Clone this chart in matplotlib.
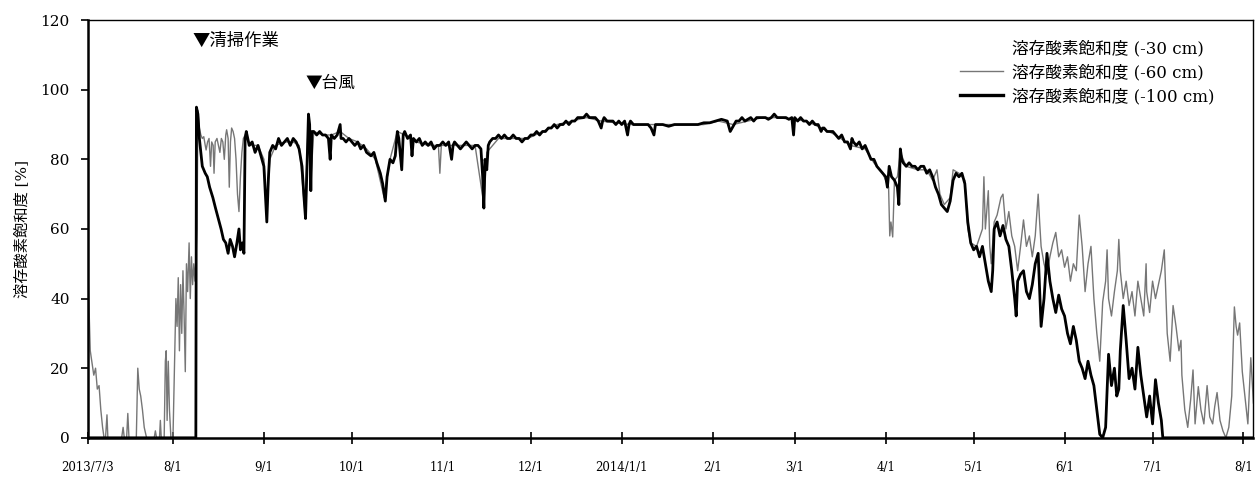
import numpy as np
import pandas as pd
import matplotlib
matplotlib.use("Agg")
import matplotlib.pyplot as plt

START = pd.Timestamp("2013-07-03")

# DO saturation (%) readings, keyed by days since 2013-07-03
day_60 = [0, 0.4, 0.8, 1.4, 2, 2.6, 3.2, 3.8, 4.4, 5, 5.5, 6, 6.5, 6.8, 11.5, 12, 12.4, 13.2,
          13.6, 14, 16.5, 17, 17.5, 18, 18.6, 19.2, 20, 22.6, 23, 23.4, 24.4, 24.7, 25, 26,
          26.4, 26.7, 27, 27.4, 27.8, 28.3, 29, 29.5, 30, 30.4, 30.8, 31.2, 31.6, 32, 32.4,
          32.8, 33.2, 33.6, 34, 34.5, 34.9, 35.3, 35.7, 36.1, 36.5, 36.9, 37.2,
          37.5, 38, 38.5, 39, 39.5, 40, 40.3, 40.8, 41.3, 41.8, 42.2, 42.7, 43, 43.4, 44,
          44.5, 45, 45.5, 46, 46.5, 47, 47.3, 47.8, 48.2, 48.6, 49, 49.5, 50, 50.5, 51, 51.5,
          52, 52.5, 53, 53.6, 54,
          55, 58, 60, 61, 62, 64, 67, 70, 72, 74, 75.2, 76, 77, 80, 83, 86, 89, 92, 95, 98,
          101, 103, 105.5, 108, 112, 116, 119.5, 120, 120.5, 124, 128, 132, 135, 136, 140,
          145, 150, 155, 160, 165, 170, 175, 180, 185, 190, 195, 200, 210, 215, 220, 225,
          230, 235, 240, 245, 250, 255, 260, 265, 268, 271, 273, 273.4, 273.8, 274.4, 275,
          276, 277, 279, 283, 286, 288, 289.5, 290.5, 292, 294, 295, 297, 299, 300, 301,
          303, 305, 305.5, 306, 307, 307.5, 308, 309, 310, 311.3, 312, 313, 314, 315, 316,
          317, 318, 319, 320, 321, 322, 323, 324, 324.5, 325, 326, 327, 328, 329, 330, 331,
          332, 333, 334, 335, 336, 337, 338, 339, 340, 341, 342, 343, 344, 345, 346, 347,
          347.5, 348, 349, 350, 351, 351.5, 352, 353, 354, 355, 356, 357, 358, 359, 360,
          360.8, 361, 362, 363, 364, 365, 366, 367, 367.5, 368, 369, 370, 371, 372, 372.7,
          373, 374, 375, 376, 376.8, 377.5, 378.6, 379.5, 380.5, 381.6, 382.5, 383.5, 384.2,
          385, 386, 387, 388, 389, 390, 390.9, 391.5, 392, 392.7, 393.6, 394.5, 395.5,
          396.5, 397.4]
do_60 = [48, 36, 25, 21.5, 18, 20, 14, 15, 8, 3, 0, 0, 6.6, 0, 0, 3, 0, 0,
         7, 0, 0, 20, 14, 12, 8, 3, 0, 0, 2, 0, 0, 5, 0, 0,
         22, 25, 5, 22, 8, 0, 0, 20, 40, 32, 46, 25, 44, 30, 48,
         35, 19, 50, 42, 56, 40, 52, 44, 50, 45, 53, 60,
         94, 89, 87, 86, 86.5, 84, 82.7, 85, 86, 78, 85, 84, 76, 85, 86,
         84, 82, 86, 85, 80, 87, 88.5, 86, 72, 85, 89, 88, 86, 80, 70, 65,
         75, 82, 86, 87, 88,
         84, 84, 80, 64, 80, 84, 85, 85, 84, 65, 92, 74, 88, 87, 87, 88, 86, 85, 83, 80,
         69, 80, 88, 87, 85, 84, 84, 76, 84, 84, 84, 84, 67, 82, 86,
         86, 86, 88, 90, 91, 92, 91, 90.5, 90, 90, 90, 90, 90, 91, 90, 91,
         92, 92, 91.5, 91, 89, 87, 84, 83, 79, 76, 72, 58, 62, 57.7, 74,
         75, 82, 78, 77, 77, 74, 77, 70, 67, 69, 77, 76, 74, 60, 56,
         55, 60, 75, 60, 71, 55, 50, 62, 64, 69, 70, 60, 65, 58, 55,
         48, 55, 62.6, 55, 58, 52, 58, 70, 62, 55, 50, 47, 52, 56, 59, 52,
         54, 49, 52, 45, 50, 48, 64, 55, 42, 50, 55, 40, 30, 22, 39, 45,
         54, 40, 35, 42, 48, 57, 48, 40, 45, 38, 42, 35, 45, 40, 35,
         50, 42, 36, 45, 40, 44, 48, 54, 42, 30, 22, 38, 32, 25, 28,
         18, 8, 3, 11, 19.5, 4, 14.7, 8, 4, 15, 6, 4, 9,
         13, 5, 2, 0, 3, 12, 37.6, 32, 29.5, 33, 19, 12, 4,
         23, 10]

day_100 = [0, 36.8, 37.0, 37.5, 38, 39, 40, 40.7, 41.5, 42.6, 43.5, 44.3, 45.4, 46.2, 47, 47.8,
           48.5, 49.3, 50, 50.8, 51.5, 52, 52.6, 53.2, 53.6, 54, 55, 56, 57, 58, 59, 60, 60.5,
           61, 61.5, 62, 63, 64, 65, 66, 67, 68, 69, 70, 71, 72, 73, 73.6, 74.2, 74.6, 75.2,
           75.6, 76, 76.4, 77, 78, 79, 80, 81, 82, 82.6, 83, 84, 85, 86, 86.3, 87, 88, 89, 90,
           91, 92, 93, 94, 95, 96.5, 97.5, 98.5, 99.7, 100.5, 101.4, 102, 103, 104, 104.8,
           105.5, 106, 107, 107.5, 108, 109, 110, 110.5, 111, 112, 113, 114, 115, 116, 117,
           118, 119, 120, 121, 122, 123, 124, 124.5, 125, 126, 127, 128, 129, 130, 131, 132,
           133, 134, 134.6, 135, 135.4, 136, 136.5, 137, 138, 139, 140, 141, 142, 143, 144,
           145, 146, 147, 148, 149, 150, 151, 152, 153, 154, 155, 156, 157, 158, 159, 160,
           161, 162, 163, 164, 165, 166, 167, 168, 169, 170, 171, 172, 173, 174, 175, 175.5,
           176, 177, 178, 179, 180, 181, 182, 183, 184, 184.5, 185, 186, 187, 188, 189, 190,
           191, 192, 193, 193.5, 194, 196, 198, 200, 202, 204, 206, 208, 210, 212, 214, 216,
           218, 219, 220, 221, 222, 223, 224, 225, 226, 227, 228, 229, 230, 231, 232, 233,
           234, 235, 236, 237, 238, 239, 240, 240.6, 241, 242, 243, 244, 245, 246, 247, 248,
           249, 250, 250.5, 251, 252, 253, 254, 255, 256, 257, 258, 259, 260, 260.5, 261,
           262, 263, 264, 265, 266, 267, 268, 269, 270, 271, 272, 272.6, 273.2, 274, 275,
           276, 276.5, 277, 277.5, 278, 279, 280, 281, 282, 283, 284, 285, 286, 287, 288,
           289, 290, 291, 292, 293, 294, 295, 296, 297, 298, 299, 300, 301, 302, 303, 304,
           305, 306, 307, 308, 308.5, 309, 310, 311, 312, 313, 314, 315, 316, 316.5, 317,
           318, 319, 320, 321, 322, 323, 324, 325, 326, 327, 328, 329, 330, 331, 332, 333,
           334, 335, 336, 337, 338, 339, 340, 341, 342, 343, 344, 345, 346, 347, 348, 349,
           350, 350.8, 351.5, 352, 353, 354, 355, 356, 357, 358, 359, 360, 361, 362, 363,
           364, 365, 366, 366.5, 397.4]
do_100 = [0, 0, 95, 93, 86, 78, 76, 75, 72, 69, 66, 63.5, 60, 57, 56, 53,
          57, 55, 52, 56, 60, 54, 56, 53, 86, 88, 84, 85, 82, 84, 81, 78, 70,
          62, 74, 82, 84, 83, 86, 84, 85, 86, 84, 86, 85, 83, 78, 70, 63, 75, 93,
          90, 71, 88, 88, 87, 88, 87, 87, 86, 80, 87, 86, 87, 90, 86, 86, 85, 86, 85,
          84, 85, 83, 84, 82, 81, 82, 79, 76, 73, 68, 75, 80, 79, 81,
          88, 86, 77, 87, 88, 86, 87, 81, 86, 85, 86, 84, 85, 84, 85,
          83, 84, 84, 85, 84, 85, 80, 84, 85, 84, 83, 84, 85, 84, 83, 84,
          84, 83, 75, 66, 80, 77, 84, 85, 86, 86, 87, 86, 87, 86, 86,
          87, 86, 86, 85, 86, 86, 87, 87, 88, 87, 88, 88, 89, 89, 90, 89,
          90, 90, 91, 90, 91, 91, 92, 92, 92, 93, 92, 92, 92, 91, 89, 91,
          92, 91, 91, 91, 90, 91, 90, 91, 87, 90, 91, 90, 90, 90, 90, 90,
          90, 89, 87, 90, 90, 90, 89.5, 90, 90, 90, 90, 90, 90.5, 90.5, 91, 91.5,
          91, 88, 89.5, 91, 91, 92, 91, 91.5, 92, 91, 92, 92, 92, 92, 91.5, 92,
          93, 92, 92, 92, 92, 91.5, 92, 87, 92, 91, 92, 91, 91, 90, 91, 90,
          90, 88, 89, 89, 88, 88, 88, 87, 86, 87, 85, 85, 83, 86, 85,
          84, 85, 83, 84, 82, 80, 80, 78, 77, 76, 75, 72, 78, 75, 74,
          72, 67, 83, 80, 79, 78, 79, 78, 78, 77, 78, 78, 76, 77, 75,
          72, 70, 67, 66, 65, 68, 74, 76, 75, 76, 73, 62, 56, 54, 55, 52,
          55, 50, 45, 42, 48, 60, 62, 58, 61, 57, 55, 48, 40, 35, 45,
          47, 48, 42, 40, 44, 50, 53, 32, 40, 53, 45, 40, 36, 41, 37, 35,
          30, 27, 32, 28, 22, 20, 17, 22, 18, 15, 8, 1, 0, 3, 24, 15,
          20, 12, 14, 25, 38, 28, 17, 20, 14, 26, 18, 12, 6, 12, 4,
          16.7, 10, 5, 0, 0]

tick_dates = ["2013-07-03", "2013-08-01", "2013-09-01", "2013-10-01", "2013-11-01",
              "2013-12-01", "2014-01-01", "2014-02-01", "2014-03-01", "2014-04-01",
              "2014-05-01", "2014-06-01", "2014-07-01", "2014-08-01"]
tick_labels = ["2013/7/3", "8/1", "9/1", "10/1", "11/1", "12/1", "2014/1/1",
               "2/1", "3/1", "4/1", "5/1", "6/1", "7/1", "8/1"]

# (anchor time of the marker, text, y position, font size)
events = [("2013-08-07 16:00", "清掃作業", 114, 12.5), ("2013-09-15 02:00", "台風", 101.7, 12)]

labels = ["溶存酸素飽和度 (-30 cm)", "溶存酸素飽和度 (-60 cm)", "溶存酸素飽和度 (-100 cm)"]

JP = ["Noto Sans CJK JP", "DejaVu Sans"]
MIXED = ["DejaVu Serif", "Noto Sans CJK JP"]
SERIF = "DejaVu Serif"


def to_dates(days):
    return START + pd.to_timedelta(np.asarray(days, dtype=float), unit="D")


fig = plt.figure(figsize=(12.56, 4.79), dpi=100)
ax = fig.add_axes([0.070, 0.086, 0.928, 0.872])

# -30 cm series is drawn in white, so it only shows up as a legend entry
ax.plot([], [], color="white", lw=1.0, label=labels[0])
ax.plot(to_dates(day_60), do_60, color="#767676", lw=1.0, label=labels[1])
ax.plot(to_dates(day_100), do_100, color="black", lw=2.0, label=labels[2])

for when, txt, yv, fs in events:
    ax.text(pd.Timestamp(when), yv, "▼" + txt, ha="left", va="center",
            fontsize=fs, family=JP, color="black")

ax.set_xlim(START, pd.Timestamp("2014-08-04 10:00"))
ax.set_ylim(0, 120)
ax.set_yticks(range(0, 121, 20))
ax.set_xticks(pd.to_datetime(tick_dates))
ax.set_xticklabels(tick_labels, family=SERIF, fontsize=8.5)
for t in ax.get_yticklabels():
    t.set_family(SERIF)
    t.set_fontsize(11)

ax.tick_params(axis="y", direction="out", length=5, width=1.2, pad=8)
ax.tick_params(axis="x", direction="inout", length=8, width=1.2, pad=13)
for side in ("left", "bottom"):
    ax.spines[side].set_linewidth(1.8)
for side in ("top", "right"):
    ax.spines[side].set_linewidth(1.0)

ax.set_ylabel("溶存酸素飽和度 [%]", family=MIXED, fontsize=11, labelpad=8)

leg = ax.legend(loc="upper right", frameon=False, handlelength=2.6, handletextpad=0.5,
                prop={"family": MIXED, "size": 12}, labelspacing=0.42,
                borderaxespad=0, bbox_to_anchor=(0.972, 0.968))
leg.get_lines()[2].set_linewidth(2.4)

fig.savefig("out.png", dpi=100)
